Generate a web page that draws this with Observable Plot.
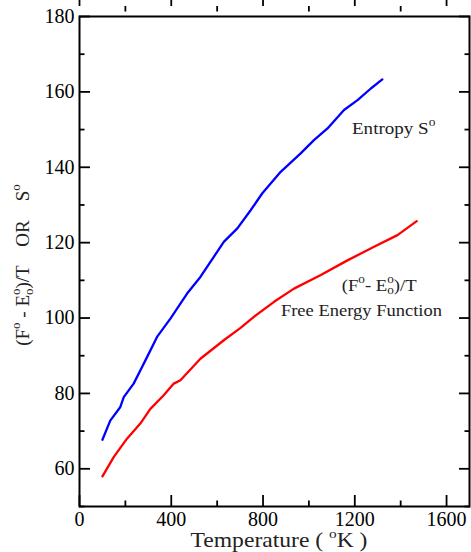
<!DOCTYPE html>
<html>
<head>
<meta charset="utf-8">
<script src="https://cdn.jsdelivr.net/npm/d3@7"></script>
<script src="https://cdn.jsdelivr.net/npm/@observablehq/plot@0.6"></script>
<style>
  html, body { margin: 0; padding: 0; background: #fff; }
</style>
</head>
<body>
<div id="chart"></div>
<script>
// Entropy S° (blue)
const entropyT = [100, 134, 178, 193, 236, 265, 295, 338, 397, 469, 527, 629, 688, 746, 797, 877, 964, 1022, 1081, 1153, 1212, 1270, 1320];
const entropyV = [67.7, 72.8, 76.4, 79.0, 82.6, 86.1, 89.7, 95.0, 99.9, 106.5, 110.9, 120.2, 123.8, 128.6, 133.1, 138.8, 143.7, 147.2, 150.3, 155.2, 157.8, 160.9, 163.3];
// Free energy function (F° - E°0)/T (red)
const freeT = [100, 149, 207, 265, 309, 367, 411, 440, 527, 629, 702, 760, 848, 935, 1052, 1168, 1284, 1386, 1470];
const freeV = [58.0, 63.1, 68.0, 72.0, 75.9, 79.5, 82.6, 83.5, 89.2, 94.1, 97.4, 100.3, 104.3, 107.8, 111.4, 115.3, 118.9, 122.0, 125.7];

const xMajor = [0, 400, 800, 1200, 1600];
const xMinor = [200, 600, 1000, 1400];
const yMajor = [60, 80, 100, 120, 140, 160, 180];
const yMinor = [50, 70, 90, 110, 130, 150, 170];

const entropy = entropyT.map((t, i) => ({T: t, v: entropyV[i]}));
const free = freeT.map((t, i) => ({T: t, v: freeV[i]}));

const W = 471, H = 552;
const mL = 79, mR = 2, mT = 16, mB = 46;
const font = "Liberation Serif, Times New Roman, serif";
const BIG = 11, SMALL = 5.5, SW = 1.8;

const inwardX = (ticks, size, anchor) =>
  Plot.axisX(ticks, {anchor, tickSize: size, dy: -size, text: null, label: null, strokeWidth: SW});
const inwardY = (ticks, size, anchor) =>
  Plot.axisY(ticks, {anchor, tickSize: size, dx: anchor === "left" ? size : -size, text: null, label: null, strokeWidth: SW});

const plot = Plot.plot({
  width: W,
  height: H,
  marginLeft: mL,
  marginRight: mR,
  marginTop: mT,
  marginBottom: mB,
  style: {fontFamily: font, background: "#fff", color: "#000"},
  x: {domain: [0, 1700]},
  y: {domain: [50, 180]},
  marks: [
    inwardX(xMajor, BIG, "bottom"),
    inwardX(xMinor, SMALL, "bottom"),
    inwardX(xMajor, BIG, "top"),
    inwardX(xMinor, SMALL, "top"),
    inwardY(yMajor, BIG, "left"),
    inwardY(yMinor, SMALL, "left"),
    inwardY(yMajor, BIG, "right"),
    inwardY(yMinor, SMALL, "right"),
    // tick labels
    Plot.axisX(xMajor, {anchor: "bottom", tickSize: 0, tickPadding: 5, label: null, fontSize: 20, tickFormat: d => String(d)}),
    Plot.axisY(yMajor, {anchor: "left", tickSize: 0, tickPadding: 5, label: null, fontSize: 20, tickFormat: d => String(d)}),
    Plot.frame({stroke: "#000", strokeWidth: 2}),
    Plot.line(entropy, {x: "T", y: "v", stroke: "#0000ff", strokeWidth: 2.3}),
    Plot.line(free, {x: "T", y: "v", stroke: "#ff0000", strokeWidth: 2.3})
  ]
});

document.getElementById("chart").appendChild(plot);

const svg = d3.select(plot);
const xs = plot.scale("x"), ys = plot.scale("y");

function addText(g, parts) {
  parts.forEach(p => {
    const ts = g.append("tspan").text(p.t);
    if (p.dx != null) ts.attr("dx", p.dx);
    if (p.dy != null) ts.attr("dy", p.dy);
    if (p.fs != null) ts.attr("font-size", p.fs);
  });
}

const lab = svg.append("g")
  .attr("font-family", font)
  .attr("fill", "#222");

// x axis label
const xl = lab.append("text")
  .attr("transform", `translate(${(mL + W - mR) / 2 + 5},${H - 5}) scale(1.18,1)`)
  .attr("text-anchor", "middle")
  .attr("font-size", 20);
addText(xl, [
  {t: "Temperature ( "},
  {t: "o", dy: -9, fs: 13},
  {t: "K )", dy: 9}
]);

// y axis label (rotated)
const yl = lab.append("text")
  .attr("transform", `translate(29,${(mT + H - mB) / 2 + 4}) rotate(-90)`)
  .attr("text-anchor", "middle")
  .attr("font-size", 19);
addText(yl, [
  {t: "(F"},
  {t: "o", dy: -9, fs: 13},
  {t: " - E", dy: 9},
  {t: "o", dy: 4, fs: 13},
  {t: "o", dx: -6.5, dy: -13, fs: 13},
  {t: ")/T    OR    S", dy: 9},
  {t: "o", dy: -9, fs: 13}
]);

// annotations (horizontally widened serif as in the reference)
function note(T, v, parts, sx) {
  const t = lab.append("text")
    .attr("transform", `translate(${xs.apply(T)},${ys.apply(v)}) scale(${sx},1)`)
    .attr("text-anchor", "start")
    .attr("font-size", 17);
  addText(t, parts);
  return t;
}

note(1190, 148.8, [
  {t: "Entropy S"},
  {t: "o", dy: -8, fs: 12}
], 1.12);

note(1145, 107.0, [
  {t: "(F"},
  {t: "o", dy: -8, fs: 12},
  {t: "- E", dy: 8},
  {t: "o", dy: 3, fs: 12},
  {t: "o", dx: -6, dy: -11, fs: 12},
  {t: ")/T", dy: 8}
], 1.1);

note(880, 100.5, [
  {t: "Free Energy Function"}
], 1.09);
</script>
</body>
</html>
